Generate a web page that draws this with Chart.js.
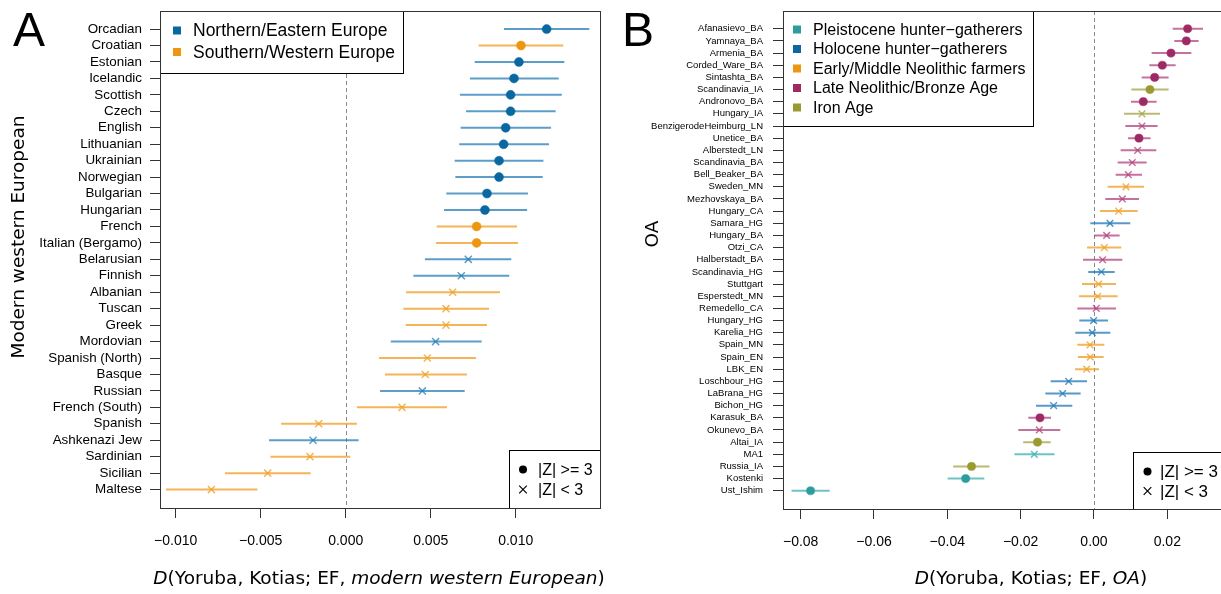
<!DOCTYPE html>
<html><head><meta charset="utf-8">
<script src="https://cdn.jsdelivr.net/npm/chart.js@4.4.1/dist/chart.umd.min.js"></script>
<style>
html,body{margin:0;padding:0;background:#fff;overflow:hidden;width:1221px;height:594px;}
#wa{position:absolute;left:0;top:0;width:610px;height:594px;}
#wb{position:absolute;left:610px;top:0;width:611px;height:594px;overflow:hidden;}
canvas{display:block;}
</style></head><body>
<div id="wa"><canvas id="ca" width="610" height="594"></canvas></div>
<div id="wb"><canvas id="cb" width="640" height="594"></canvas></div>
<script>
// ---------------- Panel A data ----------------
const catsA = ['Orcadian','Croatian','Estonian','Icelandic','Scottish','Czech','English','Lithuanian','Ukrainian','Norwegian','Bulgarian','Hungarian','French','Italian (Bergamo)','Belarusian','Finnish','Albanian','Tuscan','Greek','Mordovian','Spanish (North)','Basque','Russian','French (South)','Spanish','Ashkenazi Jew','Sardinian','Sicilian','Maltese'];
const valA = [0.01182,0.01031,0.01019,0.0099,0.0097,0.0097,0.00941,0.00929,0.00902,0.00902,0.00831,0.00819,0.0077,0.0077,0.00721,0.0068,0.00629,0.0059,0.0059,0.00529,0.0048,0.00468,0.00451,0.00331,-0.00159,-0.00192,-0.0021,-0.00459,-0.0079];
const loA = [0.00931,0.00782,0.00759,0.00731,0.00672,0.00708,0.00676,0.00668,0.00641,0.00645,0.00592,0.00578,0.00535,0.00531,0.00466,0.00398,0.00355,0.00339,0.00353,0.00265,0.00196,0.00231,0.00202,0.00066,-0.0038,-0.00451,-0.00443,-0.0071,-0.01057];
const hiA = [0.01433,0.0128,0.01286,0.01253,0.01271,0.01235,0.01208,0.01196,0.01163,0.01159,0.01072,0.01067,0.01008,0.01014,0.00974,0.00962,0.00908,0.00843,0.00831,0.008,0.00766,0.00713,0.007,0.00596,0.00066,0.00076,0.00027,-0.00206,-0.0052];
const regionA = ['NE','SW','NE','NE','NE','NE','NE','NE','NE','NE','NE','NE','SW','SW','NE','NE','SW','SW','SW','NE','SW','SW','NE','SW','SW','NE','SW','SW','SW'];
const sigA = [1,1,1,1,1,1,1,1,1,1,1,1,1,1,0,0,0,0,0,0,0,0,0,0,0,0,0,0,0];
const groupsA = ['NE','SW'];
const groupLabelsA = ['Northern/Eastern Europe','Southern/Western Europe'];
const xTicksA = [-0.01,-0.005,0,0.005,0.01];
const xTickLabelsA = ['\u22120.010','\u22120.005','0.000','0.005','0.010'];

// ---------------- Panel B data ----------------
const catsB = ['Afanasievo_BA','Yamnaya_BA','Armenia_BA','Corded_Ware_BA','Sintashta_BA','Scandinavia_IA','Andronovo_BA','Hungary_IA','BenzigerodeHeimburg_LN','Unetice_BA','Alberstedt_LN','Scandinavia_BA','Bell_Beaker_BA','Sweden_MN','Mezhovskaya_BA','Hungary_CA','Samara_HG','Hungary_BA','Otzi_CA','Halberstadt_BA','Scandinavia_HG','Stuttgart','Esperstedt_MN','Remedello_CA','Hungary_HG','Karelia_HG','Spain_MN','Spain_EN','LBK_EN','Loschbour_HG','LaBrana_HG','Bichon_HG','Karasuk_BA','Okunevo_BA','Altai_IA','MA1','Russia_IA','Kostenki','Ust_Ishim'];
const valB = [0.02555,0.02518,0.021,0.01864,0.01655,0.01527,0.01345,0.01309,0.01309,0.01227,0.01191,0.01045,0.00936,0.00873,0.00773,0.00673,0.00436,0.00345,0.00282,0.00236,0.002,0.00127,0.001,0.00064,-0.0001,-0.00045,-0.00109,-0.001,-0.002,-0.0069,-0.00855,-0.011,-0.01473,-0.01491,-0.0154,-0.01628,-0.0334,-0.035,-0.0773];
const loB = [0.02146,0.0219,0.01573,0.01509,0.013,0.01018,0.01009,0.00818,0.00855,0.00927,0.00727,0.00645,0.00591,0.00373,0.00309,0.00164,-0.001,0.0,-0.0019,-0.003,-0.00155,-0.00327,-0.00409,-0.00455,-0.004,-0.0051,-0.00455,-0.00436,-0.00518,-0.01182,-0.01327,-0.01582,-0.01791,-0.02064,-0.0193,-0.0217,-0.0384,-0.0399,-0.0825];
const hiB = [0.02973,0.02855,0.02655,0.02227,0.02036,0.02036,0.0171,0.018,0.01736,0.01545,0.017,0.01436,0.01309,0.01364,0.01227,0.01191,0.0099,0.007,0.00745,0.00773,0.00564,0.006,0.00645,0.006,0.00382,0.00445,0.00282,0.00264,0.00136,-0.0019,-0.00364,-0.00591,-0.01173,-0.0092,-0.0118,-0.01075,-0.0285,-0.0299,-0.0721];
const periodB = ['LB','LB','LB','LB','LB','IA','LB','IA','LB','LB','LB','LB','LB','EM','LB','EM','HH','LB','EM','LB','HH','EM','EM','LB','HH','HH','EM','EM','EM','HH','HH','HH','LB','LB','IA','PH','IA','PH','PH'];
const sigB = [1,1,1,1,1,1,1,0,0,1,0,0,0,0,0,0,0,0,0,0,0,0,0,0,0,0,0,0,0,0,0,0,1,0,1,0,1,1,1];
const groupsB = ['PH','HH','EM','LB','IA'];
const groupLabelsB = ['Pleistocene hunter\u2212gatherers','Holocene hunter\u2212gatherers','Early/Middle Neolithic farmers','Late Neolithic/Bronze Age','Iron Age'];
const xTicksB = [-0.08,-0.06,-0.04,-0.02,0,0.02];
const xTickLabelsB = ['\u22120.08','\u22120.06','\u22120.04','\u22120.02','0.00','0.02'];

// ---------------- styles ----------------
const COLORS = {
  NE: {solid:'#0A68A0', light:'rgba(30,120,180,0.72)'},
  SW: {solid:'#EC9612', light:'rgba(240,160,40,0.78)'},
  PH: {solid:'#2E9C9C', light:'rgba(60,175,175,0.75)'},
  HH: {solid:'#0A68A0', light:'rgba(30,120,180,0.75)'},
  EM: {solid:'#EC9612', light:'rgba(240,160,40,0.78)'},
  LB: {solid:'#9E2A63', light:'rgba(175,60,120,0.72)'},
  IA: {solid:'#9A9A30', light:'rgba(160,160,60,0.72)'}
};
const SANS = '"Liberation Sans", Arial, Helvetica, sans-serif';
const TITLE = '"DejaVu Sans", Verdana, sans-serif';

function drawRich(ctx, parts, cx, y, size, fam) {
  let total = 0;
  parts.forEach(p => { ctx.font = (p[1] ? 'italic ' : '') + size + 'px ' + fam; p.w = ctx.measureText(p[0]).width; total += p.w; });
  let x = cx - total / 2;
  ctx.textBaseline = 'middle'; ctx.textAlign = 'left'; ctx.fillStyle = '#000';
  parts.forEach(p => { ctx.font = (p[1] ? 'italic ' : '') + size + 'px ' + fam; ctx.fillText(p[0], x, y); x += p.w; });
}

function drawMarker(ctx, type, x, y, color, s) {
  ctx.save();
  if (type === 'square') { ctx.fillStyle = color; ctx.fillRect(x - s, y - s, 2 * s, 2 * s); }
  else if (type === 'dot') { ctx.fillStyle = color; ctx.beginPath(); ctx.arc(x, y, s, 0, Math.PI * 2); ctx.fill(); }
  else { ctx.strokeStyle = color; ctx.lineWidth = 1.2; ctx.beginPath(); ctx.moveTo(x - s, y - s); ctx.lineTo(x + s, y + s); ctx.moveTo(x + s, y - s); ctx.lineTo(x - s, y + s); ctx.stroke(); }
  ctx.restore();
}

function drawLegendBox(ctx, L) {
  ctx.save();
  ctx.fillStyle = '#fff'; ctx.fillRect(L.x, L.y, L.w, L.h);
  ctx.strokeStyle = '#000'; ctx.lineWidth = 1; ctx.strokeRect(Math.round(L.x) + 0.5, Math.round(L.y) + 0.5, L.w, L.h);
  ctx.font = L.size + 'px ' + SANS; ctx.textBaseline = 'middle'; ctx.textAlign = 'left'; ctx.fillStyle = '#000';
  L.items.forEach((it, k) => {
    const yy = L.y0 + k * L.dy;
    drawMarker(ctx, it.type, L.sx, yy, it.color, it.s);
    ctx.fillStyle = '#000';
    ctx.fillText(it.label, L.tx, yy + 1);
  });
  ctx.restore();
}

const decor = {
  id: 'decor',
  beforeDatasetsDraw(chart) {
    const {ctx, chartArea: a, scales: {x}} = chart;
    const x0 = Math.round(x.getPixelForValue(0)) + 0.5;
    ctx.save(); ctx.strokeStyle = '#8a8a8a'; ctx.lineWidth = 1; ctx.setLineDash([4, 3]);
    ctx.beginPath(); ctx.moveTo(x0, a.top); ctx.lineTo(x0, a.bottom); ctx.stroke(); ctx.restore();
  },
  afterDatasetsDraw(chart) {
    const d = chart.options.plugins.decor;
    const {ctx, chartArea: a} = chart;
    d.legends.forEach(L => drawLegendBox(ctx, L));
    ctx.save(); ctx.strokeStyle = '#333'; ctx.lineWidth = 1;
    ctx.strokeRect(Math.round(a.left) + 0.5, Math.round(a.top) + 0.5, Math.round(a.right - a.left), Math.round(a.bottom - a.top));
    ctx.restore();
  },
  afterDraw(chart) {
    const d = chart.options.plugins.decor;
    const ctx = chart.ctx;
    ctx.save();
    ctx.fillStyle = '#000'; ctx.textAlign = 'left'; ctx.textBaseline = 'alphabetic';
    ctx.font = d.letterSize + 'px ' + SANS; ctx.fillText(d.letter, d.letterX, d.letterY);
    drawRich(ctx, d.xTitle, d.xTitleX, d.xTitleY, d.titleSize, TITLE);
    ctx.translate(d.yTitleX, d.yTitleY); ctx.rotate(-Math.PI / 2);
    ctx.font = d.titleSize + 'px ' + TITLE; ctx.textAlign = 'center'; ctx.textBaseline = 'middle';
    ctx.fillText(d.yTitle, 0, 0);
    ctx.restore();
  }
};

function build(canvas, P) {
  const n = P.cats.length;
  const datasets = [];
  P.groups.forEach(g => {
    const idx = [];
    for (let i = 0; i < n; i++) if (P.group[i] === g) idx.push(i);
    const col = COLORS[g];
    datasets.push({
      order: 0,
      data: idx.map(i => ({x: P.val[i], y: i})),
      pointStyle: idx.map(i => P.sig[i] ? 'circle' : 'crossRot'),
      pointRadius: idx.map(i => P.sig[i] ? P.dotR : P.crossR),
      pointBackgroundColor: col.solid,
      pointBorderColor: idx.map(i => P.sig[i] ? col.solid : col.light),
      pointBorderWidth: idx.map(i => P.sig[i] ? 0.5 : 1.5)
    });
    const seg = [];
    idx.forEach(i => { seg.push({x: P.lo[i], y: i}, {x: P.hi[i], y: i}, {x: null, y: null}); });
    datasets.push({order: 1, data: seg, showLine: true, spanGaps: false, borderColor: col.light, borderWidth: 2, borderCapStyle: 'butt', pointRadius: 0, pointHoverRadius: 0});
  });
  return new Chart(canvas, {
    type: 'scatter',
    data: {datasets},
    options: {
      responsive: false, animation: false, events: [],
      layout: {padding: P.padding},
      plugins: {legend: {display: false}, tooltip: {enabled: false}, decor: P.decor},
      scales: {
        x: {
          type: 'linear', min: P.xMin, max: P.xMax,
          afterBuildTicks: s => { s.ticks = P.xTicks.map(v => ({value: v})); },
          afterFit: s => { s.height = P.xAxisH; s.paddingLeft = 0; s.paddingRight = 0; },
          ticks: {autoSkip: false, maxRotation: 0, padding: P.xTickPad, color: '#000', font: {family: SANS, size: 14},
            callback: (v) => P.xTickLabels[P.xTicks.indexOf(v)]},
          grid: {display: true, drawOnChartArea: false, drawTicks: true, tickLength: 10, color: '#333', lineWidth: 1},
          border: {display: false}
        },
        y: {
          type: 'linear', reverse: true, min: P.yMin, max: P.yMax,
          afterBuildTicks: s => { s.ticks = P.cats.map((c, i) => ({value: i})); },
          afterFit: s => { s.width = P.yAxisW; s.paddingTop = 0; s.paddingBottom = 0; },
          ticks: {autoSkip: false, padding: P.yTickPad, color: '#000', font: {family: SANS, size: P.yFont},
            callback: (v) => P.cats[v]},
          grid: {display: true, drawOnChartArea: false, drawTicks: true, tickLength: P.yTickLen, color: '#333', lineWidth: 1},
          border: {display: false}
        }
      }
    },
    plugins: [decor]
  });
}

// Panel A
build(document.getElementById('ca'), {
  cats: catsA, val: valA, lo: loA, hi: hiA, group: regionA, sig: sigA, groups: groupsA,
  dotR: 4.5, crossR: 5,
  padding: {left: 0, top: 11, right: 10, bottom: 0},
  xMin: -0.010924, xMax: 0.014959, yMin: -1.1, yMax: 29.12,
  xTicks: xTicksA, xTickLabels: xTickLabelsA, xAxisH: 86, xTickPad: 15,
  yAxisW: 160, yTickPad: 8, yTickLen: 10, yFont: 13.4,
  decor: {
    letter: 'A', letterX: 13, letterY: 46, letterSize: 48,
    xTitle: [['D', true], ['(Yoruba, Kotias; EF, ', false], ['modern western European', true], [')', false]],
    xTitleX: 379, xTitleY: 579, titleSize: 18.5,
    yTitle: 'Modern western European', yTitleX: 19, yTitleY: 237,
    legends: [
      {x: 160, y: 11, w: 243, h: 62, size: 17.5, sx: 177, tx: 193, y0: 30.5, dy: 21.5,
        items: groupsA.map((g, k) => ({type: 'square', color: COLORS[g].solid, s: 4, label: groupLabelsA[k]}))},
      {x: 509, y: 450, w: 91, h: 58, size: 16, sx: 523, tx: 538, y0: 469.5, dy: 20,
        items: [{type: 'dot', color: '#000', s: 4, label: '|Z| >= 3'}, {type: 'cross', color: '#000', s: 3.8, label: '|Z| < 3'}]}
    ]
  }
});

// Panel B (canvas starts at page x = 610)
build(document.getElementById('cb'), {
  cats: catsB, val: valB, lo: loB, hi: hiB, group: periodB, sig: sigB, groups: groupsB,
  dotR: 4.1, crossR: 4.7,
  padding: {left: 0, top: 11, right: 20, bottom: 0},
  xMin: -0.08482, xMax: 0.0371, yMin: -1.46, yMax: 39.5,
  xTicks: xTicksB, xTickLabels: xTickLabelsB, xAxisH: 85, xTickPad: 15,
  yAxisW: 173, yTickPad: 10, yTickLen: 10, yFont: 9.5,
  decor: {
    letter: 'B', letterX: 12, letterY: 46, letterSize: 48,
    xTitle: [['D', true], ['(Yoruba, Kotias; EF, ', false], ['OA', true], [')', false]],
    xTitleX: 421, xTitleY: 579, titleSize: 18.5,
    yTitle: 'OA', yTitleX: 43, yTitleY: 234,
    legends: [
      {x: 173, y: 11, w: 250, h: 115, size: 16, sx: 187, tx: 203, y0: 29.5, dy: 19.5,
        items: groupsB.map((g, k) => ({type: 'square', color: COLORS[g].solid, s: 4, label: groupLabelsB[k]}))},
      {x: 523, y: 452, w: 97, h: 57, size: 17, sx: 537.5, tx: 550, y0: 471.5, dy: 19.5,
        items: [{type: 'dot', color: '#000', s: 4, label: '|Z| >= 3'}, {type: 'cross', color: '#000', s: 3.8, label: '|Z| < 3'}]}
    ]
  }
});
</script>
</body></html>
